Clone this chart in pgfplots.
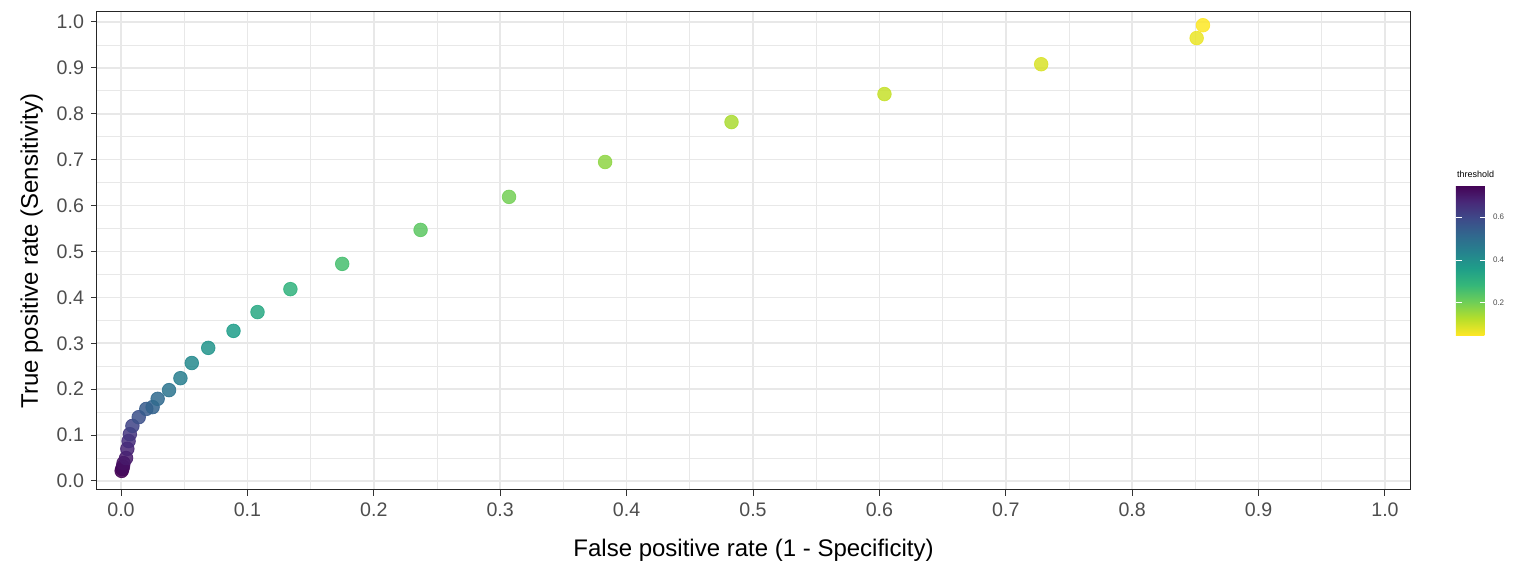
\documentclass[border=0pt]{standalone}
\usepackage{pgfplots}
\pgfplotsset{compat=1.18}
\usepackage{fontspec}
\setmainfont{Liberation Sans}
\definecolor{gridc}{RGB}{232,232,232}
\definecolor{tickc}{RGB}{77,77,77}
\pgfplotsset{colormap={rviridis}{rgb255=(253,231,37) rgb255=(181,222,43) rgb255=(110,206,88) rgb255=(53,183,121) rgb255=(31,158,137) rgb255=(38,130,142) rgb255=(49,104,142) rgb255=(62,74,137) rgb255=(72,40,120) rgb255=(68,1,84)}}
\begin{document}
\begin{tikzpicture}
\begin{axis}[
  scale only axis, width=656.5pt, height=239pt,
  xmin=-0.019, xmax=1.0198, ymin=-0.0196, ymax=1.0218,
  xtick={0,0.1,...,1.0}, ytick={0,0.1,...,1.0},
  minor xtick={0.05,0.15,...,0.95}, minor ytick={0.05,0.15,...,0.95},
  xticklabel style={/pgf/number format/.cd,fixed,fixed zerofill,precision=1},
  yticklabel style={/pgf/number format/.cd,fixed,fixed zerofill,precision=1},
  /pgf/number format/assume math mode=true,
  ticklabel style={font=\fontsize{9.8}{10}\selectfont, text=tickc},
  grid=both, major grid style={gridc, line width=0.8pt}, minor grid style={gridc, line width=0.4pt},
  axis line style={black!85, line width=0.5pt},
  tick style={black!80, line width=0.5pt}, major tick length=3pt, minor tick length=0pt,
  tick pos=left, tick align=outside,
  xlabel={False positive rate (1 - Specificity)}, ylabel={True positive rate (Sensitivity)},
  label style={font=\fontsize{12}{13}\selectfont},
  xlabel style={yshift=-4pt}, ylabel style={yshift=0pt},
  colormap name=rviridis, colorbar, point meta min=0.05, point meta max=0.75,
  colorbar style={
    at={(1.035,0.481)}, anchor=west, width=15pt, height=75pt,
    scale only axis, ytick={0.2,0.4,0.6},
    /pgf/number format/assume math mode=true,
    yticklabel style={font=\fontsize{4}{5}\selectfont, /pgf/number format/.cd,fixed,precision=1},
    major tick length=3pt, tick style={white, line width=0.5pt}, tick align=inside,
    axis line style={draw=none},
    title={threshold}, title style={font=\fontsize{4.5}{5}\selectfont, yshift=-6pt, xshift=-3pt, anchor=south west, at={(0,1)}},
  },
]
\addplot[scatter, only marks, mark=*, mark size=3.4pt, opacity=0.85,
  scatter/use mapped color={draw=mapped color, fill=mapped color}, point meta=explicit]
  table[meta=t] {
x y t
0.0005 0.022 0.75
0.001 0.026 0.74
0.0015 0.031 0.73
0.002 0.039 0.72
0.004 0.050 0.70
0.005 0.070 0.68
0.006 0.087 0.66
0.007 0.102 0.64
0.009 0.120 0.61
0.014 0.139 0.58
0.020 0.157 0.55
0.025 0.161 0.53
0.029 0.179 0.51
0.038 0.198 0.48
0.047 0.224 0.45
0.056 0.257 0.42
0.069 0.290 0.39
0.089 0.327 0.36
0.108 0.368 0.33
0.134 0.418 0.30
0.175 0.473 0.26
0.237 0.547 0.23
0.307 0.619 0.20
0.383 0.695 0.17
0.483 0.782 0.14
0.604 0.843 0.11
0.728 0.908 0.09
0.851 0.965 0.07
0.856 0.993 0.05
};
\end{axis}
\path (current axis.south west) ++(-48.5pt,-43pt) rectangle ++(768pt,288pt);
\end{tikzpicture}
\end{document}
